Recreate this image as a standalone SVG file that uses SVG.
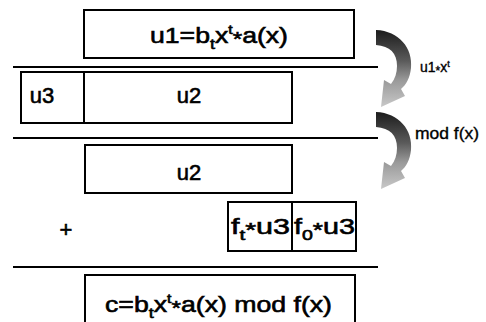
<svg xmlns="http://www.w3.org/2000/svg" width="486" height="322" viewBox="0 0 486 322">
<style>
.box{fill:#fff;stroke:#000;stroke-width:2}
.rule{stroke:#000;stroke-width:2}
.t{font-family:"Liberation Sans",Arial,sans-serif;font-size:22px;fill:#000;stroke:#000;stroke-width:0.6}
.lbl{font-family:"Liberation Sans",Arial,sans-serif;fill:#000;stroke:#000;stroke-width:0.35}
.arrow{fill:url(#g)}
</style>
<defs>
<linearGradient id="g" x1="0" y1="0" x2="0" y2="1">
<stop offset="0" stop-color="#1c1c1c"/>
<stop offset="0.4" stop-color="#5a5a5a"/>
<stop offset="0.65" stop-color="#999"/>
<stop offset="1" stop-color="#c8c8c8"/>
</linearGradient>
<path id="arr" d="M376,30 C399,31 413,48 411,68 C410,78 406,85 401,89 L405,96 L381,107 L384,80 L391,84 C395,79 397,73 397,66 C397,53 390,46 376,45 Z"/>
</defs>
<rect width="486" height="322" fill="#fff"/>
<g id="rules">
<line class="rule" x1="13" y1="67" x2="378" y2="67"/>
<line class="rule" x1="13" y1="138" x2="378" y2="138"/>
<line class="rule" x1="13" y1="267" x2="378" y2="267"/>
</g>
<g id="u1">
<rect class="box" x="84" y="10" width="270" height="48"/>
<text class="t" x="150" y="43" textLength="138" lengthAdjust="spacingAndGlyphs">u1=b<tspan font-size="15" dy="6">t</tspan><tspan dy="-6">x</tspan><tspan font-size="13" dy="-9">t</tspan><tspan font-size="20" dy="12">*</tspan><tspan dy="-3">a(x)</tspan></text>
</g>
<g id="u3">
<rect class="box" x="21" y="72" width="63" height="51"/>
<text class="t" x="42" y="103" text-anchor="middle">u3</text>
</g>
<g id="u2a">
<rect class="box" x="84" y="72" width="208" height="51"/>
<text class="t" x="189" y="103" text-anchor="middle">u2</text>
</g>
<g id="u2b">
<rect class="box" x="85" y="145" width="207" height="48"/>
<text class="t" x="189" y="180" text-anchor="middle">u2</text>
</g>
<g id="plus">
<text class="t" x="66" y="237" text-anchor="middle" font-size="22" stroke-width="1.2">+</text>
</g>
<g id="ftu3">
<rect class="box" x="228" y="202" width="64" height="49"/>
<text class="t" x="231" y="234" textLength="59" lengthAdjust="spacingAndGlyphs">f<tspan font-size="15" dy="6">t</tspan><tspan font-size="20" dy="-3">*</tspan><tspan dy="-3">u3</tspan></text>
</g>
<g id="f0u3">
<rect class="box" x="292" y="202" width="64" height="49"/>
<text class="t" x="294" y="234" textLength="61" lengthAdjust="spacingAndGlyphs">f<tspan font-size="15" dy="6">0</tspan><tspan font-size="20" dy="-3">*</tspan><tspan dy="-3">u3</tspan></text>
</g>
<g id="c">
<rect class="box" x="85" y="275" width="270" height="60"/>
<text class="t" x="105" y="312" textLength="227" lengthAdjust="spacingAndGlyphs">c=b<tspan font-size="15" dy="6">t</tspan><tspan dy="-6">x</tspan><tspan font-size="13" dy="-9">t</tspan><tspan font-size="20" dy="12">*</tspan><tspan dy="-3">a(x) mod f(x)</tspan></text>
</g>
<g id="connectors">
<use href="#arr" class="arrow"/>
<use href="#arr" class="arrow" transform="translate(0,82)"/>
</g>
<g id="labels">
<text class="lbl" x="420" y="72" font-size="14">u1<tspan font-size="12" dy="3">*</tspan><tspan dy="-3">x</tspan><tspan font-size="9" dy="-5">t</tspan></text>
<text class="lbl" x="415" y="139" font-size="16" textLength="64" lengthAdjust="spacingAndGlyphs">mod f(x)</text>
</g>
</svg>
